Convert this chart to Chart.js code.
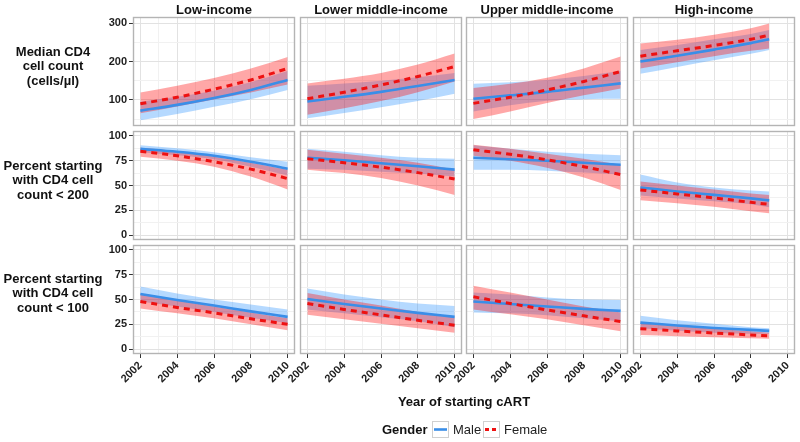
<!DOCTYPE html>
<html><head><meta charset="utf-8">
<script src="https://cdn.jsdelivr.net/npm/chart.js@4"></script>
<style>
body{margin:0;background:#fff;width:800px;height:442px;overflow:hidden;position:relative;font-family:"Liberation Sans",Arial,sans-serif;}
canvas{position:absolute;}
.t{position:absolute;font-weight:bold;font-size:13px;color:#111;white-space:nowrap;}
.strip{text-align:center;width:162px;top:2px;line-height:16px;}
.rowlab{left:0;width:106px;text-align:center;line-height:14.4px;}
.leg{position:absolute;font-size:13px;color:#222;white-space:nowrap;line-height:16px;}
.key{position:absolute;width:17px;height:17px;border:1px solid #d0d0d0;box-sizing:border-box;background:#fff;}
</style></head><body>
<script>
// ---- categories / labels ----
const incomeGroups = ['Low-income', 'Lower middle-income', 'Upper middle-income', 'High-income'];
const outcomeLabels = [
  ['Median CD4', 'cell count', '(cells/\u00b5l)'],
  ['Percent starting', 'with CD4 cell', 'count &lt; 200'],
  ['Percent starting', 'with CD4 cell', 'count &lt; 100']
];
const xAxisTitle = 'Year of starting cART';
const legendTitle = 'Gender';
const seriesNames = ['Male', 'Female'];

// ---- x values ----
const years = [2002, 2004, 2006, 2008, 2010];
const yearsHigh = [2002, 2004, 2006, 2008, 2009];

// ---- tick labels ----
const xMajorTicks = [2002, 2004, 2006, 2008, 2010];
const xMinorTicks = [2003, 2005, 2007, 2009];
const cd4MajorTicks = [100, 200, 300];
const cd4MinorTicks = [50, 150, 250];
const pctMajorTicks = [0, 25, 50, 75, 100];
const pctMinorTicks = [12.5, 37.5, 62.5, 87.5];

// ---- Median CD4 cell count ----
const cd4Low_male     = [72, 87, 105, 126, 152];
const cd4Low_maleLo   = [47, 63, 82, 102, 126];
const cd4Low_maleHi   = [95, 108, 124, 146, 175];
const cd4Low_female   = [90, 107, 128, 152, 182];
const cd4Low_femaleLo = [65, 83, 101, 119, 140];
const cd4Low_femaleHi = [119, 137, 157, 182, 212];

const cd4LMid_male     = [96, 108, 121, 136, 152];
const cd4LMid_maleLo   = [52, 66, 81, 97, 116];
const cd4LMid_maleHi   = [137, 143, 150, 159, 170];
const cd4LMid_female   = [103, 120, 139, 161, 187];
const cd4LMid_femaleLo = [61, 78, 97, 120, 148];
const cd4LMid_femaleHi = [143, 155, 170, 192, 221];

const cd4UMid_male     = [103, 112, 121, 132, 143];
const cd4UMid_maleLo   = [70, 86, 98, 102, 103];
const cd4UMid_maleHi   = [142, 146, 152, 162, 175];
const cd4UMid_female   = [91, 107, 126, 148, 174];
const cd4UMid_femaleLo = [50, 70, 92, 112, 130];
const cd4UMid_femaleHi = [131, 142, 158, 182, 213];

const cd4High_male     = [200, 215, 231, 248, 258];
const cd4High_maleLo   = [168, 186, 203, 220, 230];
const cd4High_maleHi   = [230, 243, 258, 272, 282];
const cd4High_female   = [214, 228, 242, 258, 269];
const cd4High_femaleLo = [182, 198, 214, 228, 234];
const cd4High_femaleHi = [247, 257, 270, 287, 299];

// ---- Percent starting with CD4 < 200 ----
const p200Low_male     = [87, 84, 80, 74, 67];
const p200Low_maleLo   = [83.5, 80.5, 76.5, 69, 60];
const p200Low_maleHi   = [90.5, 87.5, 83.5, 78.5, 74];
const p200Low_female   = [84.5, 80, 74, 66.5, 57];
const p200Low_femaleLo = [79, 75, 69, 59, 46];
const p200Low_femaleHi = [88, 84.5, 79, 73, 66];

const p200LMid_male     = [78, 75.5, 72.5, 69.5, 66];
const p200LMid_maleLo   = [67, 66, 64, 62, 59];
const p200LMid_maleHi   = [87, 84, 80.5, 78, 77];
const p200LMid_female   = [77, 73, 68.5, 63, 56.5];
const p200LMid_femaleLo = [66, 62.5, 57.5, 50, 40.5];
const p200LMid_femaleHi = [86, 82, 78, 73, 66];

const p200UMid_male     = [78, 76.5, 75, 73, 71];
const p200UMid_maleLo   = [66, 66, 65, 63, 61];
const p200UMid_maleHi   = [90.5, 87, 84, 82, 80.5];
const p200UMid_female   = [86, 81.5, 76, 69, 61];
const p200UMid_femaleLo = [80, 75, 68, 58, 45.5];
const p200UMid_femaleHi = [91, 87, 82, 77, 71];

const p200High_male     = [48, 44, 40.5, 37, 35];
const p200High_maleLo   = [40, 37, 34, 31, 28];
const p200High_maleHi   = [61, 53, 48, 45, 44];
const p200High_female   = [45.5, 41.5, 37.5, 33, 31];
const p200High_femaleLo = [35, 32, 28.5, 24, 22];
const p200High_femaleHi = [54, 50, 46, 42, 40.5];

// ---- Percent starting with CD4 < 100 ----
const p100Low_male     = [55.5, 49.5, 44, 38, 32.5];
const p100Low_maleLo   = [48, 43, 37.5, 31.5, 26];
const p100Low_maleHi   = [63, 56, 50, 45, 40];
const p100Low_female   = [48, 42, 36.5, 30.5, 25];
const p100Low_femaleLo = [41, 36, 31, 25, 19];
const p100Low_femaleHi = [55, 49, 43, 37, 31];

const p100LMid_male     = [50.5, 45.5, 41, 36.5, 32.5];
const p100LMid_maleLo   = [40, 36, 32, 28, 22];
const p100LMid_maleHi   = [61, 55, 50, 46, 43.5];
const p100LMid_female   = [46, 40, 34.5, 29, 24];
const p100LMid_femaleLo = [34.5, 30, 25.5, 21, 16.5];
const p100LMid_femaleHi = [56.5, 50, 44, 37.5, 31.5];

const p100UMid_male     = [48, 45.5, 43, 40.5, 38.5];
const p100UMid_maleLo   = [37, 36, 34, 31, 28];
const p100UMid_maleHi   = [57, 55, 52, 50, 49.5];
const p100UMid_female   = [52.7, 46, 39.5, 33.5, 27.7];
const p100UMid_femaleLo = [40, 35, 30, 24, 18];
const p100UMid_femaleHi = [64, 57, 50, 43, 37];

const p100High_male     = [26.7, 23.8, 21.3, 19.3, 18.3];
const p100High_maleLo   = [21, 18.5, 16.5, 15.5, 15.5];
const p100High_maleHi   = [33.5, 29, 25.5, 22, 21];
const p100High_female   = [20.6, 18.3, 16.2, 14.2, 13.2];
const p100High_femaleLo = [14.2, 13, 11.8, 10.8, 10.5];
const p100High_femaleHi = [26, 23, 20.5, 18, 16.5];

// ---- panel table built from the arrays above ----
const panelRows = [
  [
    [years, cd4Low_male, cd4Low_maleLo, cd4Low_maleHi, cd4Low_female, cd4Low_femaleLo, cd4Low_femaleHi],
    [years, cd4LMid_male, cd4LMid_maleLo, cd4LMid_maleHi, cd4LMid_female, cd4LMid_femaleLo, cd4LMid_femaleHi],
    [years, cd4UMid_male, cd4UMid_maleLo, cd4UMid_maleHi, cd4UMid_female, cd4UMid_femaleLo, cd4UMid_femaleHi],
    [yearsHigh, cd4High_male, cd4High_maleLo, cd4High_maleHi, cd4High_female, cd4High_femaleLo, cd4High_femaleHi]
  ],
  [
    [years, p200Low_male, p200Low_maleLo, p200Low_maleHi, p200Low_female, p200Low_femaleLo, p200Low_femaleHi],
    [years, p200LMid_male, p200LMid_maleLo, p200LMid_maleHi, p200LMid_female, p200LMid_femaleLo, p200LMid_femaleHi],
    [years, p200UMid_male, p200UMid_maleLo, p200UMid_maleHi, p200UMid_female, p200UMid_femaleLo, p200UMid_femaleHi],
    [yearsHigh, p200High_male, p200High_maleLo, p200High_maleHi, p200High_female, p200High_femaleLo, p200High_femaleHi]
  ],
  [
    [years, p100Low_male, p100Low_maleLo, p100Low_maleHi, p100Low_female, p100Low_femaleLo, p100Low_femaleHi],
    [years, p100LMid_male, p100LMid_maleLo, p100LMid_maleHi, p100LMid_female, p100LMid_femaleLo, p100LMid_femaleHi],
    [years, p100UMid_male, p100UMid_maleLo, p100UMid_maleHi, p100UMid_female, p100UMid_femaleLo, p100UMid_femaleHi],
    [yearsHigh, p100High_male, p100High_maleLo, p100High_maleHi, p100High_female, p100High_femaleLo, p100High_femaleHi]
  ]
];
const rowScales = [
  {min: 32, max: 316, major: cd4MajorTicks, minor: cd4MinorTicks},
  {min: -5, max: 105, major: pctMajorTicks, minor: pctMinorTicks},
  {min: -5, max: 105, major: pctMajorTicks, minor: pctMinorTicks}
];

// ---- layout & style ----
const PW = 162, PH = 109;
const colLefts = [133, 300, 466, 633];
const rowTops = [17, 131, 245];
const M_L = 45, M_R = 6, M_T = 6, M_B = 46, YW = 40, XH = 42;
const MALE_LINE = '#3a8ee8', FEMALE_LINE = '#ee1111';
const MALE_FILL = 'rgba(51,150,255,0.36)', FEMALE_FILL = 'rgba(255,10,10,0.36)';
const GRID_MAJOR = '#e2e2e2', GRID_MINOR = '#f1f1f1';
const tickFont = {family: '"Liberation Sans", Arial, sans-serif', size: 11, weight: 'bold'};

const panelBorder = {
  id: 'panelBorder',
  afterDraw(chart) {
    const a = chart.chartArea, ctx = chart.ctx;
    ctx.save();
    ctx.strokeStyle = '#b4b4b4';
    ctx.lineWidth = 1.4;
    ctx.strokeRect(a.left + 0.5, a.top + 0.5, a.right - a.left - 1, a.bottom - a.top - 1);
    ctx.restore();
  }
};

function pts(xs, ys) { return xs.map((x, i) => ({x: x, y: ys[i]})); }

function addText(cls, html, style) {
  const d = document.createElement('div');
  d.className = cls;
  d.innerHTML = html;
  Object.assign(d.style, style);
  document.body.appendChild(d);
  return d;
}

function makePanel(r, c) {
  const p = panelRows[r][c];
  const sc = rowScales[r];
  const showY = c === 0, showX = r === 2;
  const w = PW + M_L + M_R, h = PH + M_T + M_B;
  const cv = document.createElement('canvas');
  cv.width = w; cv.height = h;
  cv.style.left = (colLefts[c] - M_L) + 'px';
  cv.style.top = (rowTops[r] - M_T) + 'px';
  cv.style.width = w + 'px'; cv.style.height = h + 'px';
  document.body.appendChild(cv);
  const xAll = xMajorTicks.concat(xMinorTicks).sort((a, b) => a - b);
  const yAll = sc.major.concat(sc.minor).sort((a, b) => a - b);
  const band = {borderWidth: 0, borderColor: 'rgba(0,0,0,0)', pointRadius: 0};
  new Chart(cv, {
    type: 'line',
    data: {datasets: [
      Object.assign({data: pts(p[0], p[3]), fill: '+1', backgroundColor: MALE_FILL, order: 4}, band),
      Object.assign({data: pts(p[0], p[2]), fill: false, order: 4}, band),
      Object.assign({data: pts(p[0], p[6]), fill: '+1', backgroundColor: FEMALE_FILL, order: 3}, band),
      Object.assign({data: pts(p[0], p[5]), fill: false, order: 3}, band),
      {label: seriesNames[0], data: pts(p[0], p[1]), borderColor: MALE_LINE, borderWidth: 2.6, pointRadius: 0, fill: false, order: 2},
      {label: seriesNames[1], data: pts(p[0], p[4]), borderColor: FEMALE_LINE, borderWidth: 3, borderDash: [6, 5], pointRadius: 0, fill: false, order: 1}
    ]},
    options: {
      responsive: false, animation: false, events: [],
      layout: {autoPadding: false, padding: {left: showY ? M_L - YW : M_L, right: M_R, top: M_T, bottom: showX ? M_B - XH : M_B}},
      plugins: {legend: {display: false}, tooltip: {enabled: false}},
      elements: {line: {cubicInterpolationMode: 'monotone', tension: 0.4}},
      scales: {
        x: {
          type: 'linear', min: 2001.6, max: 2010.4,
          afterBuildTicks: s => { s.ticks = xAll.map(v => ({value: v})); },
          afterFit: s => { s.height = showX ? XH : 0; s.paddingLeft = 0; s.paddingRight = 0; },
          border: {display: false},
          grid: {
            color: ctx => xMajorTicks.includes(ctx.tick && ctx.tick.value) ? GRID_MAJOR : GRID_MINOR,
            tickColor: ctx => xMajorTicks.includes(ctx.tick && ctx.tick.value) ? '#333' : 'rgba(0,0,0,0)',
            drawTicks: showX, tickLength: 4, lineWidth: 1
          },
          ticks: {
            display: showX, autoSkip: false, minRotation: 45, maxRotation: 45, padding: 1,
            font: tickFont, color: '#1e1e1e',
            callback: v => xMajorTicks.includes(v) ? String(v) : ''
          }
        },
        y: {
          type: 'linear', min: sc.min, max: sc.max,
          afterBuildTicks: s => { s.ticks = yAll.map(v => ({value: v})); },
          afterFit: s => { s.width = showY ? YW : 0; s.paddingTop = 0; s.paddingBottom = 0; },
          border: {display: false},
          grid: {
            color: ctx => sc.major.includes(ctx.tick && ctx.tick.value) ? GRID_MAJOR : GRID_MINOR,
            tickColor: ctx => sc.major.includes(ctx.tick && ctx.tick.value) ? '#333' : 'rgba(0,0,0,0)',
            drawTicks: showY, tickLength: 4, lineWidth: 1
          },
          ticks: {
            display: showY, autoSkip: false, padding: 2,
            font: tickFont, color: '#1e1e1e',
            callback: v => sc.major.includes(v) ? String(v) : ''
          }
        }
      }
    },
    plugins: [panelBorder]
  });
}

for (let r = 0; r < 3; r++) for (let c = 0; c < 4; c++) makePanel(r, c);

// strip titles
incomeGroups.forEach((g, c) => addText('t strip', g, {left: colLefts[c] + 'px'}));
// row labels
const rowLabelTops = [45, 159, 272];
outcomeLabels.forEach((lines, r) => addText('t rowlab', lines.join('<br>'), {top: rowLabelTops[r] + 'px'}));
// x axis title
addText('t', xAxisTitle, {left: '364px', width: '200px', textAlign: 'center', top: '394px'});
// legend
addText('t', legendTitle, {left: '382px', top: '422px'});
addText('key', '<svg width="15" height="15" style="position:absolute;left:0;top:0"><line x1="1" y1="7.5" x2="14" y2="7.5" stroke="' + MALE_LINE + '" stroke-width="2.6"/></svg>', {left: '432px', top: '421px'});
addText('leg', seriesNames[0], {left: '453px', top: '422px'});
addText('key', '<svg width="15" height="15" style="position:absolute;left:0;top:0"><line x1="1" y1="7.5" x2="15" y2="7.5" stroke="' + FEMALE_LINE + '" stroke-width="2.8" stroke-dasharray="4,3"/></svg>', {left: '483px', top: '421px'});
addText('leg', seriesNames[1], {left: '504px', top: '422px'});
</script>
</body></html>
